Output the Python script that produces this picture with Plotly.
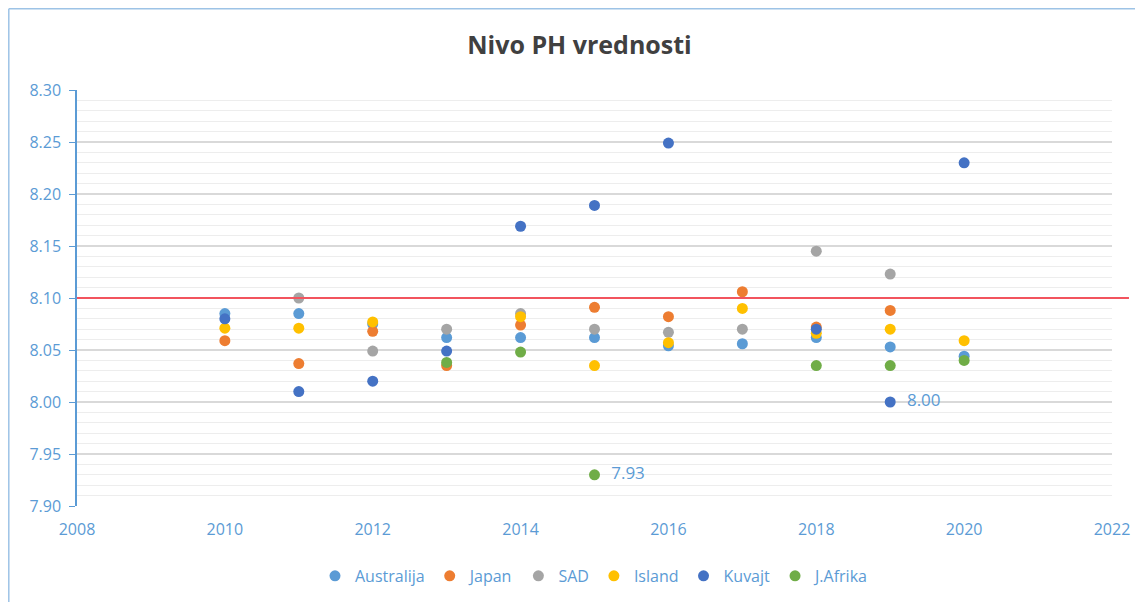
import plotly.graph_objects as go

years = [2010, 2011, 2012, 2013, 2014, 2015, 2016, 2017, 2018, 2019, 2020]

australija = [8.085, 8.085, 8.075, 8.062, 8.062, 8.062, 8.054, 8.056, 8.062, 8.053, 8.044]
japan      = [8.059, 8.037, 8.068, 8.035, 8.074, 8.091, 8.082, 8.106, 8.072, 8.088, None]
sad        = [None, 8.100, 8.049, 8.070, 8.085, 8.070, 8.067, 8.070, 8.145, 8.123, None]
island     = [8.071, 8.071, 8.077, None, 8.082, 8.035, 8.057, 8.090, 8.066, 8.070, 8.059]
kuvajt     = [8.080, 8.010, 8.020, 8.049, 8.169, 8.189, 8.249, None, 8.070, 8.000, 8.230]
jafrika    = [None, None, None, 8.038, 8.048, 7.930, None, None, 8.035, 8.035, 8.040]

label_points = {"Kuvajt": {2019: "  8.00"}, "J.Afrika": {2015: "  7.93"}}
reference_ph = 8.10

series = [
    ("Australija", australija, "#5B9BD5"),
    ("Japan", japan, "#ED7D31"),
    ("SAD", sad, "#A5A5A5"),
    ("Island", island, "#FFC000"),
    ("Kuvajt", kuvajt, "#4472C4"),
    ("J.Afrika", jafrika, "#70AD47"),
]

fig = go.Figure()
for name, vals, color in series:
    labels = [label_points.get(name, {}).get(y, "") for y in years]
    has_text = any(labels)
    fig.add_trace(go.Scatter(
        x=years, y=vals, name=name,
        mode="markers+text" if has_text else "markers",
        text=labels if has_text else None,
        textposition="middle right",
        textfont=dict(color="#5B9BD5", size=17, family="Open Sans"),
        marker=dict(color=color, size=11),
        cliponaxis=False,
    ))

fig.add_shape(type="line", xref="paper", x0=0, x1=1.0164, yref="y", y0=reference_ph, y1=reference_ph,
              line=dict(color="#F2545E", width=1.8), layer="above")

# chart frame (left and top edges)
fig.add_shape(type="line", xref="paper", yref="paper", x0=-0.0659, x1=-0.0659, y0=-0.3, y1=1.1953,
              line=dict(color="#9DC3E6", width=1.5), layer="below")
fig.add_shape(type="line", xref="paper", yref="paper", x0=-0.0659, x1=1.1, y0=1.1953, y1=1.1953,
              line=dict(color="#9DC3E6", width=1.5), layer="below")

fig.update_layout(
    width=1143, height=602,
    margin=dict(l=69, r=39, t=82, b=104),
    paper_bgcolor="white", plot_bgcolor="white",
    title=dict(text="<b>Nivo PH vrednosti</b>", x=0.5, xanchor="center", y=0.938, yanchor="middle",
               font=dict(family="Open Sans", size=25, color="#404040")),
    showlegend=True,
    legend=dict(orientation="h", x=0.5, xanchor="center", y=-0.168, yanchor="middle",
                font=dict(family="Open Sans", size=16, color="#5B9BD5"),
                itemwidth=30, tracegroupgap=0),
    font=dict(family="Open Sans"),
)

fig.update_xaxes(range=[2008, 2022], dtick=2, tick0=2008, showgrid=False, zeroline=False,
                 showline=False, ticks="", ticklabelstandoff=12,
                 tickfont=dict(size=16, color="#5B9BD5"))
fig.update_yaxes(range=[7.90, 8.30], dtick=0.05, tick0=7.90, tickformat=".2f",
                 showgrid=True, gridcolor="#D9D9D9", gridwidth=1.5, zeroline=False,
                 showline=True, linecolor="#5B9BD5", linewidth=1.5,
                 ticks="outside", ticklen=6, tickcolor="#5B9BD5", ticklabelstandoff=5,
                 tickfont=dict(size=16, color="#5B9BD5"),
                 minor=dict(dtick=0.01, tick0=7.90, showgrid=True, gridcolor="#EDEDED", gridwidth=1, ticks=""))

fig.write_html("out.html")
